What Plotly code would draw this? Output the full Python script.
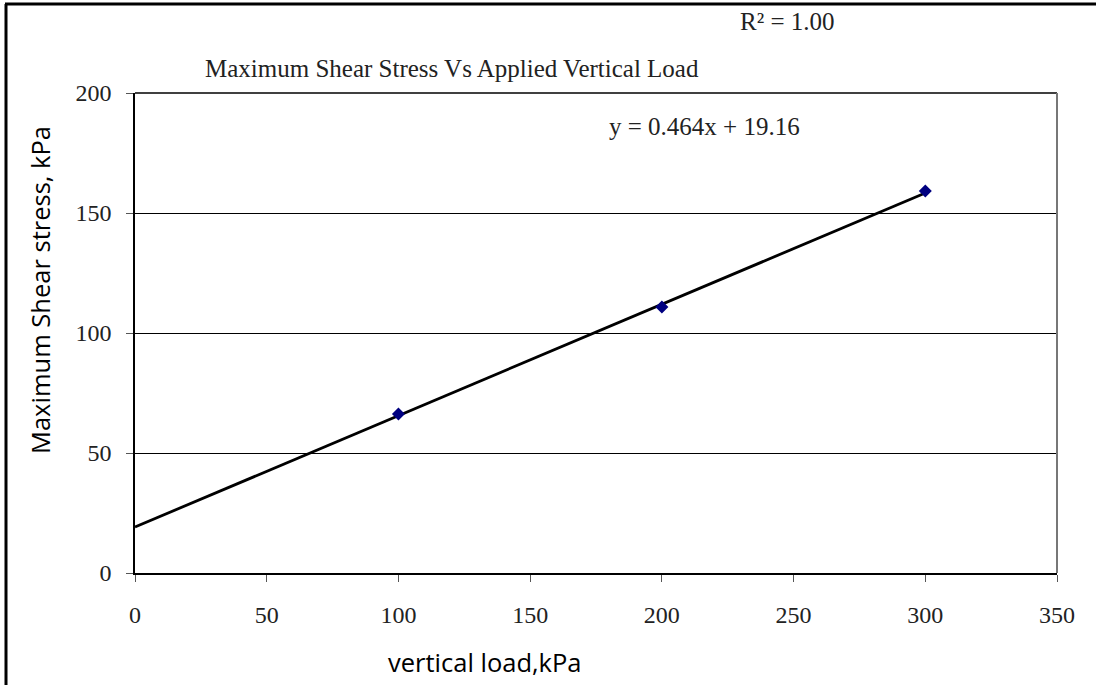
import plotly.graph_objects as go

# Measured shear test results
vertical_load = [100, 200, 300]          # kPa
max_shear = [66.2, 110.8, 159.2]         # kPa

# Linear trendline reported on the chart
slope = 0.464
intercept = 19.16
trend_x = [0, 300]
trend_y = [slope * x + intercept for x in trend_x]

x_ticks = [0, 50, 100, 150, 200, 250, 300, 350]
y_ticks = [0, 50, 100, 150, 200]

W, H = 1096, 685
L, R, T, B = 135, 39, 93, 112

serif = "Liberation Serif, Times New Roman, serif"
sans = "Open Sans, Liberation Sans, sans-serif"

fig = go.Figure()
fig.add_trace(go.Scatter(
    x=trend_x, y=trend_y, mode="lines",
    line=dict(color="black", width=2.8), showlegend=False, hoverinfo="skip"))
fig.add_trace(go.Scatter(
    x=vertical_load, y=max_shear, mode="markers",
    marker=dict(symbol="diamond", size=10, color="#000080"), showlegend=False))

def px_x(p):
    return (p - L) / (W - L - R)

def px_y(p):
    return (H - B - p) / (H - T - B)

tick_font = dict(family=serif, size=24, color="#222")

fig.update_layout(
    width=W, height=H,
    margin=dict(l=L, r=R, t=T, b=B),
    paper_bgcolor="white", plot_bgcolor="white",
    xaxis=dict(range=[0, 350], tickvals=x_ticks, showgrid=False, zeroline=False,
               showline=True, linecolor="black", linewidth=1.5,
               ticks="outside", ticklen=7, tickcolor="#555",
               ticklabelstandoff=12,
               tickfont=tick_font, fixedrange=True),
    yaxis=dict(range=[0, 200], tickvals=y_ticks, showgrid=True, gridcolor="black",
               gridwidth=1, zeroline=False, showline=True, linecolor="black",
               linewidth=1.5, ticks="outside", ticklen=7, tickcolor="#555",
               ticklabelstandoff=10,
               tickfont=tick_font, fixedrange=True),
    showlegend=False,
)

shapes = [
    # plot area top and right borders
    dict(type="line", xref="paper", yref="paper", x0=0, x1=1, y0=1, y1=1,
         line=dict(color="black", width=1.5)),
    dict(type="line", xref="paper", yref="paper", x0=1, x1=1, y0=0, y1=1,
         line=dict(color="#777", width=2)),
    # outer frame
    dict(type="line", xref="paper", yref="paper", x0=px_x(5), x1=px_x(1096),
         y0=px_y(4), y1=px_y(4), line=dict(color="black", width=3)),
    dict(type="line", xref="paper", yref="paper", x0=px_x(6), x1=px_x(6),
         y0=px_y(4), y1=px_y(685), line=dict(color="black", width=3)),
]
fig.update_layout(shapes=shapes)

annotations = [
    dict(text="Maximum Shear Stress Vs Applied Vertical Load", x=px_x(452), y=px_y(68),
         font=dict(family=serif, size=25, color="#222")),
    dict(text="R² = 1.00", x=px_x(787), y=px_y(22),
         font=dict(family=serif, size=25, color="#222")),
    dict(text="y = 0.464x + 19.16", x=px_x(704), y=px_y(127),
         font=dict(family=serif, size=25, color="#222")),
    dict(text="vertical load,kPa", x=px_x(485), y=px_y(662),
         font=dict(family=sans, size=25.5, color="black")),
    dict(text="Maximum Shear stress, kPa", x=px_x(40), y=px_y(290), textangle=-90,
         font=dict(family=sans, size=25.5, color="black")),
]
for a in annotations:
    a.update(xref="paper", yref="paper", showarrow=False, xanchor="center", yanchor="middle")
fig.update_layout(annotations=annotations)

fig.write_html("out.html")
